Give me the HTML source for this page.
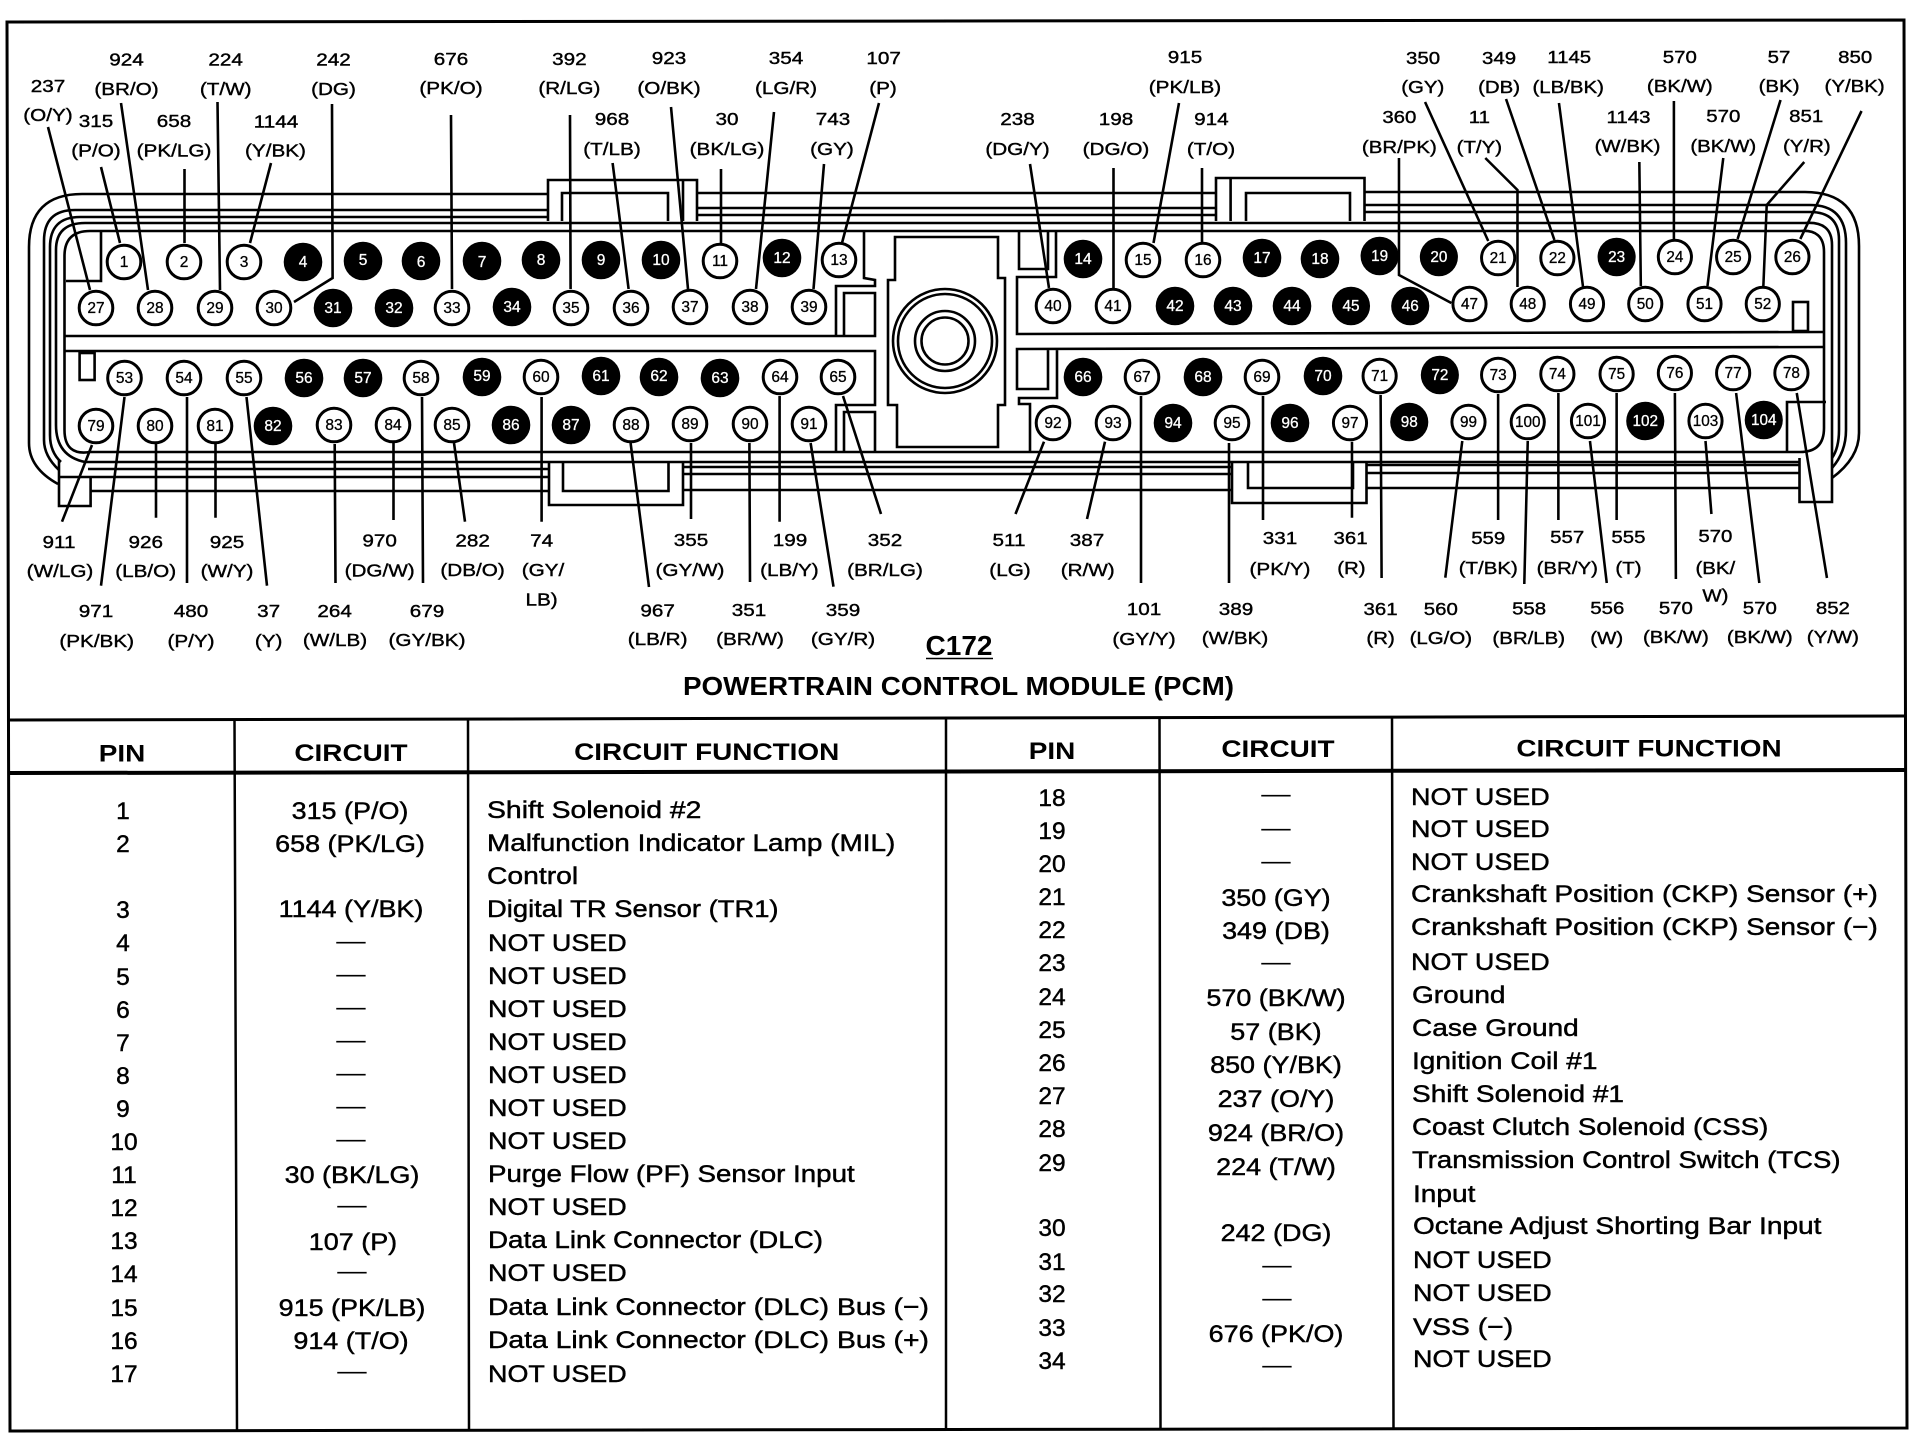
<!DOCTYPE html>
<html><head><meta charset="utf-8"><title>C172 Powertrain Control Module (PCM)</title>
<style>
html,body{margin:0;padding:0;background:#fff}
svg{display:block}
text{font-family:"Liberation Sans",sans-serif;fill:#000}
.n{font-size:18px;text-anchor:middle;transform-box:fill-box;transform-origin:center;transform:scaleX(1.15);stroke:#000;stroke-width:.4px}
.pw text{font-size:15.5px;text-anchor:middle;fill:#000;stroke:#000;stroke-width:.3px}
.pb text{font-size:15.5px;text-anchor:middle;fill:#fff;stroke:#fff;stroke-width:.3px}
.h{font-size:24.5px;font-weight:bold;text-anchor:middle;transform-box:fill-box;transform-origin:center;transform:scaleX(1.14)}
.p{font-size:24.5px;text-anchor:middle;stroke:#000;stroke-width:.45px}
.c{font-size:24.5px;text-anchor:middle;transform-box:fill-box;transform-origin:center;transform:scaleX(1.1);stroke:#000;stroke-width:.45px}
.d{font-size:24.5px;text-anchor:middle;transform-box:fill-box;transform-origin:center;transform:scaleX(1.2)}
.f{font-size:24.5px;transform-box:fill-box;transform-origin:0% 50%;transform:scaleX(1.145);stroke:#000;stroke-width:.45px}
.u{font-size:24.5px;transform-box:fill-box;transform-origin:0% 50%;transform:scaleX(1.1);stroke:#000;stroke-width:.45px}
</style></head>
<body>
<svg xmlns="http://www.w3.org/2000/svg" width="1914" height="1440" viewBox="0 0 1914 1440">
<rect width="1914" height="1440" fill="#fff"/>

<!-- frame and table rules -->
<g fill="none" stroke="#000" stroke-width="3">
<path d="M7,22 L1904,20 L1907,1428 L10,1431 Z"/>
<path d="M9,720 L1905,716"/>
<path d="M9,773 L1906,770" stroke-width="4"/>
<path d="M234.5,720 L237,1431M468,720 L469,1431M946,719 L946,1430M1159.5,718 L1160.5,1430M1392,717 L1393.5,1429" stroke-width="2.5"/>
</g>

<!-- connector body -->
<g fill="none" stroke="#000" stroke-width="2.6">
<path d="M548,194 H82 Q29,194 29,247 V443 Q29,468 58,484"/>
<path d="M697,193 H1216"/>
<path d="M1364,192 H1805 Q1859,192 1859,246 V433 Q1859,458 1832,478"/>
<path d="M548,210 H75 Q44,210 44,241 V440 Q44,456 59,470"/>
<path d="M697,208 H1216"/>
<path d="M1364,205 H1810 Q1846,205 1846,243 V430 Q1846,452 1832,468"/>
<path d="M548,217 H80 Q50,217 50,247 V435 Q50,452 61,462"/>
<path d="M697,215 H1216"/>
<path d="M1364,212 H1810 Q1839,212 1839,240 V430 Q1839,448 1832,458"/>
<path d="M85,223 Q56,223 56,250 V425 Q56,456 85,462 H1799"/>
<path d="M85,223 H1805 Q1832,221 1832,245 V478"/>
<path d="M90,231 H1800 Q1824,229 1824,252 V428 Q1824,452 1800,452 H90 Q64.5,456 64.5,430 V256 Q64.5,231 90,231Z"/>
<path d="M59,477 H549M683,474 H1232M1366,473 H1799"/>
<path d="M88,469 H549M683,467 H1232M1366,465 H1799"/>
<path d="M90,491 H549M683,490 H1232M1366,488 H1799"/>
<!-- latches -->
<path d="M548,221 V180 H697 V221M562,221 V193 H668 V221M683,180 V221"/>
<path d="M1216,221 V178 H1364.5 V221M1246,221 V193 H1350 V221M1230.6,178 V221"/>
<path d="M549,463 V505 H683 V463M563,463 V491 H668.5 V463"/>
<path d="M1232,463 V503 H1366.5 V463M1248,463 V488 H1353 V463"/>
<!-- mid strip -->
<path d="M64.5,336 H875 V293 H844 V336M64.5,351 H875 V405 H836 V453M844,453 V412 H875 V453"/>
<path d="M836,336 V286 H875 V280 L864,278 V231"/>
<path d="M1824,332 L1017,334 V277 H1056 V231M1019,231 V269 H1048 V231"/>
<path d="M1824,347 L1017,349 V389 H1048 V349M1057,349 V398 H1019 V404 H1030 V452"/>
<!-- centre -->
<path d="M895,237 H998 V278 H1005 V405 H998 V447 H897 V405 H888 V280 H895 Z"/>
<circle cx="945" cy="341" r="52"/><circle cx="945" cy="341" r="47"/>
<circle cx="945" cy="341" r="30"/><circle cx="945" cy="341" r="23.5"/>
<!-- small rects & tabs -->
<path d="M66,281 H101 V231"/>
<rect x="79.6" y="353" width="15" height="27"/>
<rect x="1793" y="302" width="15" height="29"/>
<path d="M1787,452 V402 H1826"/>
<path d="M59,460 V506 H90.6 V478"/>
<path d="M1799.5,458 V502 H1832 V478"/>
</g>

<!-- leaders -->
<g fill="none" stroke="#000" stroke-width="2.6">
<path d="M48,127 L90,290M101,167 L120,243M121,103 L148,290M184.5,169 V243M217.5,102 L220,290M271,163 L250,243M332,104 L332.6,278 L294,302M451,115 L452,289M570,115 L570.6,289M612.6,163 L628.6,289"/>
<path d="M671,107 L688,289M721,169 V243M774,112 L756,289M824,164 L813.5,289M879,103 L842,243M1030,164 L1049,288M1113.5,168 V288M1179,103 L1153.5,243M1202,168 V242"/>
<path d="M92,445 L62,521.7M124.5,397 L101,585.7M156,444 V517.7M187,397 V583M215.5,444 V517.7M246.5,397 L267,585.7M334.7,444 L335.5,583M393.5,443 V520M422,397 L423,583M454,443 L465,521.7M541.6,397 V521.7M630.6,443 L649,587"/>
<path d="M691,443 V519M749.4,443 L750,582M779.6,396 V521.7M810.6,443 L833.5,586.7M843,396 L881,514M1044,441.7 L1015.5,514M1105,441.7 L1087,519M1141,396 V583M1229,443 V583M1263,396 V520"/>
</g>

<!-- white pins -->
<g class="pw" stroke="#000" stroke-width="3" fill="#fff">
<circle cx="124" cy="262" r="16.8"/><circle cx="184" cy="262" r="16.8"/><circle cx="244" cy="262" r="16.8"/><circle cx="720" cy="261" r="16.8"/><circle cx="839" cy="260" r="16.8"/>
<circle cx="1143" cy="260" r="16.8"/><circle cx="1203" cy="260" r="16.8"/>
<circle cx="96" cy="308" r="16.8"/><circle cx="155" cy="308" r="16.8"/><circle cx="215" cy="308" r="16.8"/><circle cx="274" cy="308" r="16.8"/><circle cx="452" cy="308" r="16.8"/><circle cx="571" cy="308" r="16.8"/><circle cx="631" cy="308" r="16.8"/><circle cx="690" cy="307" r="16.8"/><circle cx="750" cy="307" r="16.8"/><circle cx="809" cy="307" r="16.8"/>
<circle cx="1053" cy="306" r="16.8"/><circle cx="1113" cy="306" r="16.8"/>
<circle cx="124.5" cy="378" r="16.8"/><circle cx="184" cy="378" r="16.8"/><circle cx="244" cy="378" r="16.8"/><circle cx="421" cy="378" r="16.8"/><circle cx="541" cy="377" r="16.8"/><circle cx="780" cy="377" r="16.8"/><circle cx="838" cy="377" r="16.8"/>
<circle cx="1142" cy="377" r="16.8"/><circle cx="1262" cy="377" r="16.8"/>
<circle cx="96" cy="426" r="16.8"/><circle cx="155" cy="426" r="16.8"/><circle cx="215" cy="426" r="16.8"/><circle cx="334" cy="425" r="16.8"/><circle cx="393" cy="425" r="16.8"/><circle cx="452" cy="425" r="16.8"/><circle cx="631" cy="425" r="16.8"/><circle cx="690" cy="424" r="16.8"/><circle cx="750" cy="424" r="16.8"/><circle cx="809" cy="424" r="16.8"/>
<circle cx="1053" cy="423" r="16.8"/><circle cx="1113" cy="423" r="16.8"/><circle cx="1232" cy="423" r="16.8"/>
<text x="124" y="267">1</text><text x="184" y="267">2</text><text x="244" y="267">3</text><text x="720" y="266">11</text><text x="839" y="265">13</text>
<text x="1143" y="265">15</text><text x="1203" y="265">16</text>
<text x="96" y="313">27</text><text x="155" y="313">28</text><text x="215" y="313">29</text><text x="274" y="313">30</text><text x="452" y="313">33</text><text x="571" y="313">35</text><text x="631" y="313">36</text><text x="690" y="312">37</text><text x="750" y="312">38</text><text x="809" y="312">39</text>
<text x="1053" y="311">40</text><text x="1113" y="311">41</text>
<text x="124.5" y="383">53</text><text x="184" y="383">54</text><text x="244" y="383">55</text><text x="421" y="383">58</text><text x="541" y="382">60</text><text x="780" y="382">64</text><text x="838" y="382">65</text>
<text x="1142" y="382">67</text><text x="1262" y="382">69</text>
<text x="96" y="431">79</text><text x="155" y="431">80</text><text x="215" y="431">81</text><text x="334" y="430">83</text><text x="393" y="430">84</text><text x="452" y="430">85</text><text x="631" y="430">88</text><text x="690" y="429">89</text><text x="750" y="429">90</text><text x="809" y="429">91</text>
<text x="1053" y="428">92</text><text x="1113" y="428">93</text><text x="1232" y="428">95</text>
</g>

<!-- black pins -->
<g class="pb" fill="#000">
<circle cx="303" cy="262" r="19.3"/><circle cx="363" cy="261" r="19.3"/><circle cx="421" cy="261" r="19.3"/><circle cx="482" cy="261" r="19.3"/><circle cx="541" cy="260" r="19.3"/><circle cx="601" cy="260" r="19.3"/><circle cx="661" cy="260" r="19.3"/><circle cx="782" cy="258" r="19.3"/>
<circle cx="1083" cy="259" r="19.3"/><circle cx="1262" cy="258" r="19.3"/><circle cx="1320" cy="259" r="19.3"/>
<circle cx="333" cy="308" r="19.3"/><circle cx="394" cy="308" r="19.3"/><circle cx="512" cy="307" r="19.3"/>
<circle cx="1175" cy="306" r="19.3"/><circle cx="1233" cy="306" r="19.3"/><circle cx="1292" cy="306" r="19.3"/>
<circle cx="304" cy="378" r="19.3"/><circle cx="363" cy="378" r="19.3"/><circle cx="482" cy="377" r="19.3"/><circle cx="601" cy="376" r="19.3"/><circle cx="659" cy="377" r="19.3"/><circle cx="720" cy="378" r="19.3"/>
<circle cx="1083" cy="377" r="19.3"/><circle cx="1203" cy="377" r="19.3"/><circle cx="1323" cy="376" r="19.3"/>
<circle cx="273" cy="426" r="19.3"/><circle cx="511" cy="425" r="19.3"/><circle cx="571" cy="425" r="19.3"/>
<circle cx="1173" cy="423" r="19.3"/><circle cx="1290" cy="423" r="19.3"/>
<text x="303" y="267">4</text><text x="363" y="265">5</text><text x="421" y="267">6</text><text x="482" y="267">7</text><text x="541" y="265">8</text><text x="601" y="265">9</text><text x="661" y="265">10</text><text x="782" y="263">12</text>
<text x="1083" y="264">14</text><text x="1262" y="263">17</text><text x="1320" y="264">18</text>
<text x="333" y="313">31</text><text x="394" y="313">32</text><text x="512" y="312">34</text>
<text x="1175" y="311">42</text><text x="1233" y="311">43</text><text x="1292" y="311">44</text>
<text x="304" y="383">56</text><text x="363" y="383">57</text><text x="482" y="381">59</text><text x="601" y="381">61</text><text x="659" y="381">62</text><text x="720" y="383">63</text>
<text x="1083" y="382">66</text><text x="1203" y="382">68</text><text x="1323" y="381">70</text>
<text x="273" y="431">82</text><text x="511" y="430">86</text><text x="571" y="430">87</text>
<text x="1173" y="428">94</text><text x="1290" y="428">96</text>
</g>

<!-- right-hand side of the connector -->
<g transform="translate(16.875,0) scale(0.9875,1)">
<g fill="none" stroke="#000" stroke-width="2.6">
<path d="M1399.6,158 V275 L1452.6,303M1426,102 L1490,241M1487,158 L1519.6,190 V287M1508,99 L1557,240M1561.6,103 L1586,287M1643,162 L1644.5,286M1678,101 V239M1728,158 L1712,286M1786,100 L1742.5,239M1810,162 L1772,205 L1768.6,286M1868,111 L1806,239"/>
<path d="M1352,441.7 V517.7M1381,395 L1382,578M1463.7,441 L1446.5,577.7M1500,394 V520M1530,441 L1526.5,584M1561,393 V520M1593,441 L1610,583M1620,393 V520M1679,393 L1680,579M1710,441 L1716,514M1741,393 L1764.5,583M1802.4,393 L1833,578"/>
</g>
<g class="pw" stroke="#000" stroke-width="3" fill="#fff">
<circle cx="1500" cy="258" r="16.8"/><circle cx="1560" cy="258" r="16.8"/><circle cx="1679" cy="257" r="16.8"/><circle cx="1738" cy="257" r="16.8"/><circle cx="1798" cy="257" r="16.8"/>
<circle cx="1471" cy="304" r="16.8"/><circle cx="1530" cy="304" r="16.8"/><circle cx="1590" cy="304" r="16.8"/><circle cx="1649" cy="304" r="16.8"/><circle cx="1709" cy="304" r="16.8"/><circle cx="1768" cy="304" r="16.8"/>
<circle cx="1380" cy="376" r="16.8"/><circle cx="1500" cy="375" r="16.8"/><circle cx="1560" cy="374" r="16.8"/><circle cx="1620" cy="374" r="16.8"/><circle cx="1679" cy="373" r="16.8"/><circle cx="1738" cy="373" r="16.8"/><circle cx="1797" cy="373" r="16.8"/>
<circle cx="1350" cy="423" r="16.8"/><circle cx="1470" cy="422" r="16.8"/><circle cx="1530" cy="422" r="16.8"/><circle cx="1591" cy="421" r="16.8"/><circle cx="1710" cy="421" r="16.8"/>
<text x="1500" y="263">21</text><text x="1560" y="263">22</text><text x="1679" y="262">24</text><text x="1738" y="262">25</text><text x="1798" y="262">26</text>
<text x="1471" y="309">47</text><text x="1530" y="309">48</text><text x="1590" y="309">49</text><text x="1649" y="309">50</text><text x="1709" y="309">51</text><text x="1768" y="309">52</text>
<text x="1380" y="381">71</text><text x="1500" y="380">73</text><text x="1560" y="379">74</text><text x="1620" y="379">75</text><text x="1679" y="378">76</text><text x="1738" y="378">77</text><text x="1797" y="378">78</text>
<text x="1350" y="428">97</text><text x="1470" y="427">99</text><text x="1530" y="427">100</text><text x="1591" y="426">101</text><text x="1710" y="426">103</text>
</g>
<g class="pb" fill="#000">
<circle cx="1380" cy="256" r="19.3"/><circle cx="1440" cy="257" r="19.3"/><circle cx="1620" cy="257" r="19.3"/>
<circle cx="1351" cy="306" r="19.3"/><circle cx="1411" cy="306" r="19.3"/>
<circle cx="1441" cy="375" r="19.3"/>
<circle cx="1410" cy="422" r="19.3"/><circle cx="1649" cy="421" r="19.3"/><circle cx="1769" cy="420" r="19.3"/>
<text x="1380" y="261">19</text><text x="1440" y="262">20</text><text x="1620" y="262">23</text>
<text x="1351" y="311">45</text><text x="1411" y="311">46</text>
<text x="1441" y="380">72</text>
<text x="1410" y="427">98</text><text x="1649" y="426">102</text><text x="1769" y="425">104</text>
</g>
<text class="n" x="1424" y="64">350</text><text class="n" x="1423.7" y="93">(GY)</text>
<text class="n" x="1501" y="64">349</text><text class="n" x="1501" y="93">(DB)</text>
<text class="n" x="1572" y="63">1145</text><text class="n" x="1571" y="93">(LB/BK)</text>
<text class="n" x="1684" y="63">570</text><text class="n" x="1684" y="92">(BK/W)</text>
<text class="n" x="1784.5" y="63">57</text><text class="n" x="1784.5" y="92">(BK)</text>
<text class="n" x="1861.6" y="63">850</text><text class="n" x="1861" y="92">(Y/BK)</text>
<text class="n" x="1400" y="123">360</text><text class="n" x="1400" y="153">(BR/PK)</text>
<text class="n" x="1481" y="123">11</text><text class="n" x="1481" y="153">(T/Y)</text>
<text class="n" x="1632" y="123">1143</text><text class="n" x="1631" y="152">(W/BK)</text>
<text class="n" x="1728" y="122">570</text><text class="n" x="1728" y="152">(BK/W)</text>
<text class="n" x="1812" y="122">851</text><text class="n" x="1812.6" y="152">(Y/R)</text>
<text class="n" x="1350.6" y="544">361</text><text class="n" x="1351.4" y="574">(R)</text>
<text class="n" x="1490" y="544">559</text><text class="n" x="1490" y="574">(T/BK)</text>
<text class="n" x="1570" y="543">557</text><text class="n" x="1570" y="574">(BR/Y)</text>
<text class="n" x="1632" y="543">555</text><text class="n" x="1632" y="574">(T)</text>
<text class="n" x="1720" y="542">570</text><text class="n" x="1720" y="574">(BK/</text><text class="n" x="1720" y="601.7">W)</text>
<text class="n" x="1381" y="615">361</text><text class="n" x="1381" y="644">(R)</text>
<text class="n" x="1442" y="615">560</text><text class="n" x="1442" y="644">(LG/O)</text>
<text class="n" x="1531.4" y="614.7">558</text><text class="n" x="1531" y="644">(BR/LB)</text>
<text class="n" x="1610.6" y="614">556</text><text class="n" x="1610" y="644">(W)</text>
<text class="n" x="1680" y="614">570</text><text class="n" x="1680" y="643">(BK/W)</text>
<text class="n" x="1765" y="614">570</text><text class="n" x="1765" y="643">(BK/W)</text>
<text class="n" x="1839" y="614">852</text><text class="n" x="1839" y="643">(Y/W)</text>
</g>

<!-- top labels -->
<text class="n" x="48" y="92">237</text><text class="n" x="48" y="121">(O/Y)</text>
<text class="n" x="126.5" y="65.5">924</text><text class="n" x="126.5" y="95">(BR/O)</text>
<text class="n" x="225.7" y="65.5">224</text><text class="n" x="225.7" y="95">(T/W)</text>
<text class="n" x="333.5" y="65.5">242</text><text class="n" x="333.5" y="95">(DG)</text>
<text class="n" x="451" y="65">676</text><text class="n" x="451" y="94">(PK/O)</text>
<text class="n" x="569.4" y="65">392</text><text class="n" x="569.4" y="94">(R/LG)</text>
<text class="n" x="96" y="127">315</text><text class="n" x="96" y="156.5">(P/O)</text>
<text class="n" x="174" y="127">658</text><text class="n" x="174" y="156.5">(PK/LG)</text>
<text class="n" x="276" y="127.5">1144</text><text class="n" x="275.5" y="156.5">(Y/BK)</text>
<text class="n" x="612" y="125">968</text><text class="n" x="612" y="155">(T/LB)</text>
<text class="n" x="669" y="64">923</text><text class="n" x="669" y="94">(O/BK)</text>
<text class="n" x="786" y="64">354</text><text class="n" x="786" y="94">(LG/R)</text>
<text class="n" x="883.7" y="64">107</text><text class="n" x="883" y="94">(P)</text>
<text class="n" x="1185" y="63">915</text><text class="n" x="1185" y="93">(PK/LB)</text>
<text class="n" x="727" y="125">30</text><text class="n" x="727" y="155">(BK/LG)</text>
<text class="n" x="833" y="125">743</text><text class="n" x="832" y="155">(GY)</text>
<text class="n" x="1017.5" y="125">238</text><text class="n" x="1017.5" y="155">(DG/Y)</text>
<text class="n" x="1116" y="125">198</text><text class="n" x="1116" y="155">(DG/O)</text>
<text class="n" x="1211.4" y="125">914</text><text class="n" x="1211" y="155">(T/O)</text>

<!-- bottom labels -->
<text class="n" x="59" y="548">911</text><text class="n" x="60" y="577">(W/LG)</text>
<text class="n" x="145.7" y="548">926</text><text class="n" x="145.7" y="577">(LB/O)</text>
<text class="n" x="227" y="548">925</text><text class="n" x="227" y="577">(W/Y)</text>
<text class="n" x="379.6" y="546.7">970</text><text class="n" x="379.6" y="576.7">(DG/W)</text>
<text class="n" x="472.6" y="546.7">282</text><text class="n" x="472.6" y="576">(DB/O)</text>
<text class="n" x="541.6" y="546.7">74</text><text class="n" x="543" y="576">(GY/</text><text class="n" x="541.6" y="605.7">LB)</text>
<text class="n" x="96" y="617">971</text><text class="n" x="96.7" y="647">(PK/BK)</text>
<text class="n" x="191" y="617">480</text><text class="n" x="191" y="647">(P/Y)</text>
<text class="n" x="268.6" y="617">37</text><text class="n" x="268.6" y="647">(Y)</text>
<text class="n" x="334.7" y="617">264</text><text class="n" x="335" y="646">(W/LB)</text>
<text class="n" x="427" y="617">679</text><text class="n" x="427" y="646">(GY/BK)</text>
<text class="n" x="657.6" y="616.7">967</text><text class="n" x="657.6" y="645">(LB/R)</text>
<text class="n" x="691" y="546">355</text><text class="n" x="690" y="576">(GY/W)</text>
<text class="n" x="790" y="546">199</text><text class="n" x="789.4" y="576">(LB/Y)</text>
<text class="n" x="885" y="546">352</text><text class="n" x="885" y="576">(BR/LG)</text>
<text class="n" x="1009" y="546">511</text><text class="n" x="1010" y="576">(LG)</text>
<text class="n" x="1087" y="546">387</text><text class="n" x="1087.7" y="576">(R/W)</text>
<text class="n" x="749" y="616">351</text><text class="n" x="750" y="645">(BR/W)</text>
<text class="n" x="843" y="616">359</text><text class="n" x="843" y="645">(GY/R)</text>
<text class="n" x="1144" y="615">101</text><text class="n" x="1144" y="645">(GY/Y)</text>
<text class="n" x="1236" y="615">389</text><text class="n" x="1235" y="644">(W/BK)</text>
<text class="n" x="1280" y="544">331</text><text class="n" x="1280" y="575">(PK/Y)</text>

<!-- titles -->
<text x="959" y="655" font-size="28" font-weight="bold" text-anchor="middle">C172</text>
<path d="M926,658.5 H993" stroke="#000" stroke-width="1.6"/>
<text x="958.5" y="695" font-size="25.6" font-weight="bold" text-anchor="middle" textLength="551" lengthAdjust="spacingAndGlyphs">POWERTRAIN CONTROL MODULE (PCM)</text>

<!-- table headers -->
<text class="h" x="122" y="761.5">PIN</text><text class="h" x="351" y="761">CIRCUIT</text><text class="h" x="706.7" y="760">CIRCUIT FUNCTION</text>
<text class="h" x="1052" y="759">PIN</text><text class="h" x="1278" y="757">CIRCUIT</text><text class="h" x="1649" y="756.7">CIRCUIT FUNCTION</text>

<!-- left table -->
<text class="p" x="123" y="819">1</text><text class="c" x="350" y="819">315 (P/O)</text><text class="f" x="487" y="818" style="transform:scaleX(1.158)">Shift Solenoid #2</text>
<text class="p" x="123" y="852">2</text><text class="c" x="350" y="852">658 (PK/LG)</text><text class="f" x="487" y="851" style="transform:scaleX(1.141)">Malfunction Indicator Lamp (MIL)</text>
<text class="f" x="487" y="884" style="transform:scaleX(1.155)">Control</text>
<text class="p" x="123" y="918">3</text><text class="c" x="351" y="917">1144 (Y/BK)</text><text class="f" x="487" y="917" style="transform:scaleX(1.118)">Digital TR Sensor (TR1)</text>
<text class="p" x="123" y="951">4</text><text class="d" x="351" y="949">—</text><text class="u" x="488" y="951">NOT USED</text>
<text class="p" x="123" y="985">5</text><text class="d" x="351" y="982">—</text><text class="u" x="488" y="984">NOT USED</text>
<text class="p" x="123" y="1018">6</text><text class="d" x="351" y="1015">—</text><text class="u" x="488" y="1017">NOT USED</text>
<text class="p" x="123" y="1051">7</text><text class="d" x="351" y="1048">—</text><text class="u" x="488" y="1050">NOT USED</text>
<text class="p" x="123" y="1084">8</text><text class="d" x="351" y="1081">—</text><text class="u" x="488" y="1083">NOT USED</text>
<text class="p" x="123" y="1117">9</text><text class="d" x="351" y="1114">—</text><text class="u" x="488" y="1116">NOT USED</text>
<text class="p" x="124" y="1150">10</text><text class="d" x="351" y="1147">—</text><text class="u" x="488" y="1149">NOT USED</text>
<text class="p" x="124" y="1183">11</text><text class="c" x="352" y="1183">30 (BK/LG)</text><text class="f" x="488" y="1182" style="transform:scaleX(1.132)">Purge Flow (PF) Sensor Input</text>
<text class="p" x="124" y="1216">12</text><text class="d" x="352" y="1213">—</text><text class="u" x="488" y="1215">NOT USED</text>
<text class="p" x="124" y="1249">13</text><text class="c" x="353" y="1250">107 (P)</text><text class="f" x="488" y="1248" style="transform:scaleX(1.134)">Data Link Connector (DLC)</text>
<text class="p" x="124" y="1282">14</text><text class="d" x="352" y="1279">—</text><text class="u" x="488" y="1281">NOT USED</text>
<text class="p" x="124" y="1316">15</text><text class="c" x="352" y="1316">915 (PK/LB)</text><text class="f" x="488" y="1315" style="transform:scaleX(1.155)">Data Link Connector (DLC) Bus (−)</text>
<text class="p" x="124" y="1349">16</text><text class="c" x="351" y="1349">914 (T/O)</text><text class="f" x="488" y="1348" style="transform:scaleX(1.155)">Data Link Connector (DLC) Bus (+)</text>
<text class="p" x="124" y="1382">17</text><text class="d" x="352" y="1379">—</text><text class="u" x="488" y="1382">NOT USED</text>

<!-- right table -->
<text class="p" x="1052" y="806">18</text><text class="d" x="1276" y="802">—</text><text class="u" x="1411" y="805">NOT USED</text>
<text class="p" x="1052" y="839">19</text><text class="d" x="1276" y="836">—</text><text class="u" x="1411" y="837">NOT USED</text>
<text class="p" x="1052" y="872">20</text><text class="d" x="1276" y="869">—</text><text class="u" x="1411" y="870">NOT USED</text>
<text class="p" x="1052" y="905">21</text><text class="c" x="1276" y="906">350 (GY)</text><text class="f" x="1411" y="902">Crankshaft Position (CKP) Sensor (+)</text>
<text class="p" x="1052" y="938">22</text><text class="c" x="1276" y="939">349 (DB)</text><text class="f" x="1411" y="935">Crankshaft Position (CKP) Sensor (−)</text>
<text class="p" x="1052" y="971">23</text><text class="d" x="1276" y="970">—</text><text class="u" x="1411" y="970">NOT USED</text>
<text class="p" x="1052" y="1005">24</text><text class="c" x="1276" y="1006">570 (BK/W)</text><text class="f" x="1412" y="1003">Ground</text>
<text class="p" x="1052" y="1038">25</text><text class="c" x="1276" y="1040">57 (BK)</text><text class="f" x="1412" y="1036">Case Ground</text>
<text class="p" x="1052" y="1071">26</text><text class="c" x="1276" y="1073">850 (Y/BK)</text><text class="f" x="1412" y="1069">Ignition Coil #1</text>
<text class="p" x="1052" y="1104">27</text><text class="c" x="1276" y="1107">237 (O/Y)</text><text class="f" x="1412" y="1102">Shift Solenoid #1</text>
<text class="p" x="1052" y="1137">28</text><text class="c" x="1276" y="1141">924 (BR/O)</text><text class="f" x="1412" y="1135" style="transform:scaleX(1.128)">Coast Clutch Solenoid (CSS)</text>
<text class="p" x="1052" y="1171">29</text><text class="c" x="1276" y="1175">224 (T/W)</text><text class="f" x="1412" y="1168" style="transform:scaleX(1.123)">Transmission Control Switch (TCS)</text>
<text class="f" x="1413" y="1202">Input</text>
<text class="p" x="1052" y="1236">30</text><text class="c" x="1276" y="1241">242 (DG)</text><text class="f" x="1413" y="1234">Octane Adjust Shorting Bar Input</text>
<text class="p" x="1052" y="1270">31</text><text class="d" x="1277" y="1273">—</text><text class="u" x="1413" y="1268">NOT USED</text>
<text class="p" x="1052" y="1302">32</text><text class="d" x="1277" y="1306">—</text><text class="u" x="1413" y="1301">NOT USED</text>
<text class="p" x="1052" y="1336">33</text><text class="c" x="1276" y="1342">676 (PK/O)</text><text class="f" x="1413" y="1335" style="transform:scaleX(1.16)">VSS (−)</text>
<text class="p" x="1052" y="1369">34</text><text class="d" x="1277" y="1373">—</text><text class="u" x="1413" y="1367">NOT USED</text>
</svg>
</body></html>
